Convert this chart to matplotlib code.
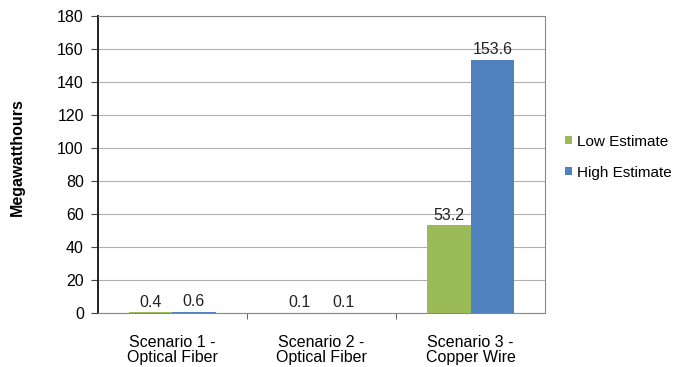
import numpy as np
import matplotlib.pyplot as plt

plt.rcParams['font.family'] = ['Liberation Sans', 'DejaVu Sans']

scenarios = ["Scenario 1 -\nOptical Fiber", "Scenario 2 -\nOptical Fiber", "Scenario 3 -\nCopper Wire"]
low_estimate = [0.4, 0.1, 53.2]
high_estimate = [0.6, 0.1, 153.6]
low_labels = ["0.4", "0.1", "53.2"]
high_labels = ["0.6", "0.1", "153.6"]

green = "#9BBB59"
blue = "#4F81BD"


def main():
    fig = plt.figure(figsize=(6.74, 3.67), dpi=100)
    ax = fig.add_axes([0.145, 0.147, 0.664, 0.809])

    x = np.arange(len(scenarios))
    w = 0.29
    b1 = ax.bar(x - w / 2, low_estimate, w, color=green, label="Low Estimate", zorder=3)
    b2 = ax.bar(x + w / 2, high_estimate, w, color=blue, label="High Estimate", zorder=3)
    ax.bar_label(b1, labels=low_labels, padding=2, fontsize=11.5, color="#222222")
    ax.bar_label(b2, labels=high_labels, padding=2, fontsize=11.5, color="#222222")

    ax.set_xlim(-0.5, 2.5)
    ax.set_ylim(0, 180)
    ax.set_yticks(np.arange(0, 181, 20))
    ax.yaxis.grid(True, color="#b0b0b0", linewidth=0.8, zorder=0)

    ax.set_xticks(x)
    ax.set_xticklabels(scenarios, fontsize=11.5, linespacing=1.0)
    ax.set_xticks([0.5, 1.5], minor=True)
    ax.tick_params(axis="x", which="major", length=0, pad=16)
    ax.tick_params(axis="x", which="minor", length=4, direction="out", color="#444444")
    ax.tick_params(axis="y", labelsize=11.5, length=5, pad=5, direction="out", color="#444444")

    for side in ["top", "right", "bottom"]:
        ax.spines[side].set_color("#888888")
    ax.spines["left"].set_color("#222222")
    ax.spines["left"].set_linewidth(1.4)

    ax.set_ylabel("Megawatthours", fontsize=11.5, fontweight="bold")
    ax.yaxis.set_label_coords(-0.163, 0.525)

    ax.legend(loc="center left", bbox_to_anchor=(1.03, 0.525), frameon=False,
              fontsize=11, handlelength=0.45, handleheight=0.45, handletextpad=0.35,
              labelspacing=1.1, borderaxespad=0)

    fig.savefig("out.png", dpi=100)


if __name__ == "__main__":
    main()
